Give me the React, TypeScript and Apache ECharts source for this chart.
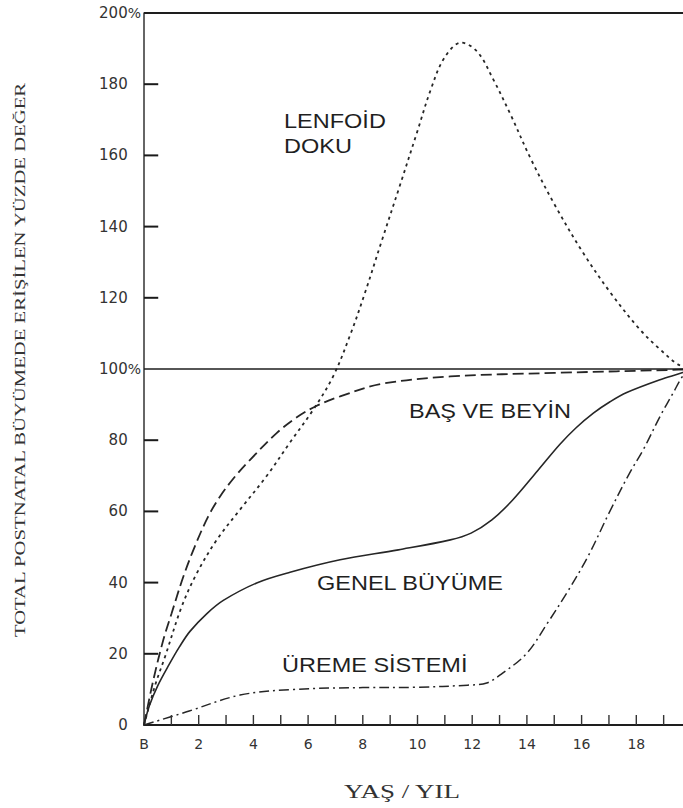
import React, { useEffect, useRef } from "react";
import * as echarts from "echarts";

// ---- data (age in years, value in % of total postnatal growth) ----
const lymphoidAges = [0, 0.4, 0.77, 1.38, 1.93, 2.66, 3.51, 4.49, 5.34, 6.19, 6.92, 7.57, 8.08, 8.71, 9.35, 9.98, 10.49, 10.99, 11.6, 12.2, 12.76, 13.4, 14.15, 15.04, 16.05, 17.06, 18.13, 18.87, 19.52, 20];
const lymphoidValues = [0, 11, 19.2, 33.3, 42.6, 52, 60.5, 70, 79.4, 88.6, 98, 110.2, 121.4, 136.4, 151.4, 166.4, 178.6, 187.5, 191.7, 189, 181.5, 171.5, 158.9, 145.8, 132.7, 121.4, 111.1, 105.5, 101.3, 100];

const headAges = [0, 0.34, 0.71, 1.01, 1.44, 1.86, 2.35, 2.78, 3.33, 3.88, 4.85, 5.6, 6.3, 7.17, 8.67, 11.2, 15, 19.55, 20];
const headValues = [0, 12.6, 24, 31.4, 41.7, 50.2, 58.6, 64.2, 69.8, 74.5, 82, 86.5, 89.6, 92.3, 95.8, 97.9, 98.9, 99.8, 100];

const generalAges = [0, 0.2, 0.5, 0.92, 1.3, 1.68, 2.3, 2.9, 4.12, 5.34, 7.17, 9.3, 11.2, 11.96, 12.72, 13.48, 14.4, 15.2, 15.8, 16.43, 17.04, 17.65, 18.87, 19.7, 20];
const generalValues = [0, 5.5, 11, 17, 22, 26.3, 31.3, 35, 39.9, 42.9, 46.4, 49.2, 52, 53.9, 57.6, 63.2, 71.5, 78.8, 83.5, 87.6, 90.8, 93.4, 97, 99, 100];

const reproAges = [0, 1.56, 3.51, 5.5, 8, 10, 11.83, 12.53, 13.1, 13.99, 14.75, 15.45, 16.23, 17.0, 17.75, 18.26, 18.87, 19.35, 19.7, 20];
const reproValues = [0, 3.7, 8.4, 10, 10.5, 10.6, 11.2, 11.8, 14.5, 20.1, 28.6, 37, 47.3, 59.5, 70.7, 77.4, 86.7, 93.3, 98, 100];

// axis ticks and labels
const xTickLabels = ["B", "", "2", "", "4", "", "6", "", "8", "", "10", "", "12", "", "14", "", "16", "", "18", "", ""];
const xMinorTicks = [1, 2, 3, 4, 5, 6, 7, 8, 9, 10, 11, 12, 13, 14, 15, 16, 17, 18, 19];
const yMajorTicks = [20, 40, 60, 80, 120, 140, 160, 180];
const percentTicks = [100, 200];
const referenceLines = [100, 200];

const curveLabels = [
  { text: "LENFOİD", left: 284, cy: 121 },
  { text: "DOKU", left: 284, cy: 146 },
  { text: "BAŞ VE BEYİN", left: 409, cy: 411 },
  { text: "GENEL BÜYÜME", left: 317, cy: 583 },
  { text: "ÜREME SİSTEMİ", left: 282, cy: 665 },
];

const yTitle = "TOTAL POSTNATAL BÜYÜMEDE ERİŞİLEN YÜZDE DEĞER";
const xTitle = "YAŞ / YIL";

// tick mark lengths, in axis units (style only)
const Y_TICK_LEN = 0.52; // years
const X_TICK_LEN = 2.8; // percent

const pairs = (xs: number[], ys: number[]) => xs.map((x, i) => [x, ys[i]]);

const INK = "#262626";

export default function App() {
  const ref = useRef<HTMLDivElement>(null);

  useEffect(() => {
    document.body.style.margin = "0";
    if (!ref.current) return;
    const chart = echarts.init(ref.current, undefined, { renderer: "svg" });

    const lineSeries = (name: string, data: number[][], type: any, width: number) => ({
      name,
      type: "line",
      data,
      smooth: 0.35,
      showSymbol: false,
      symbol: "none",
      lineStyle: { color: INK, width, type },
      z: 3,
    });

    const tickSeries = (id: string, data: number[][], color: string, width: number) => ({
      id,
      type: "line",
      data,
      silent: true,
      showSymbol: false,
      symbol: "none",
      clip: false,
      lineStyle: { color, width, type: "solid" },
      z: 4,
    });

    const refLineItems = referenceLines.map((v) => ({
      yAxis: v,
      lineStyle: { color: "#1e1e1e", type: "solid", width: v === 200 ? 2 : 1.6 },
    }));

    const option: any = {
      animation: false,
      backgroundColor: "#ffffff",
      grid: { left: 144, right: -8, top: 13, bottom: 83, containLabel: false, outerBoundsMode: "none" },
      xAxis: {
        type: "value",
        min: 0,
        max: 20,
        interval: 1,
        axisLine: { show: true, lineStyle: { color: "#1e1e1e", width: 2 } },
        axisTick: { show: false },
        splitLine: { show: false },
        axisLabel: {
          show: true,
          margin: 12,
          showMaxLabel: false,
          fontFamily: "DejaVu Sans",
          fontSize: 14,
          color: "#333",
          formatter: (v: number) => xTickLabels[Math.round(v)] ?? "",
        },
      },
      yAxis: {
        type: "value",
        min: 0,
        max: 200,
        interval: 20,
        axisLine: { show: true, lineStyle: { color: "#333", width: 1.5 } },
        axisTick: { show: false },
        splitLine: { show: false },
        axisLabel: {
          show: true,
          margin: 3,
          formatter: (v: number) =>
            percentTicks.includes(v) ? `{n|${v}}{p|%}` : `{n|${v}}{h|%}`,
          rich: {
            n: { fontFamily: "DejaVu Sans", fontSize: 15, color: "#333" },
            p: { fontFamily: "DejaVu Sans", fontSize: 14, color: "#333" },
            h: { fontFamily: "DejaVu Sans", fontSize: 14, color: "rgba(0,0,0,0)" },
          },
        },
      },
      series: [
        {
          ...lineSeries("LENFOİD DOKU", pairs(lymphoidAges, lymphoidValues), [3, 4], 1.8),
          markLine: {
            silent: true,
            symbol: ["none", "none"],
            label: { show: false },
            lineStyle: { color: "#1e1e1e", type: "solid", width: 1.6 },
            data: refLineItems,
          },
        },
        lineSeries("BAŞ VE BEYİN", pairs(headAges, headValues), [11, 5], 1.8),
        lineSeries("GENEL BÜYÜME", pairs(generalAges, generalValues), "solid", 1.6),
        lineSeries("ÜREME SİSTEMİ", pairs(reproAges, reproValues), [10, 4, 2, 4], 1.5),
        ...yMajorTicks.map((v) => tickSeries(`ytick-${v}`, [[0, v], [Y_TICK_LEN, v]], "#1a1a1a", 2)),
        ...xMinorTicks.map((a) => tickSeries(`xtick-${a}`, [[a, 0], [a, X_TICK_LEN]], "#333", 1.4)),
      ],
      graphic: [
        ...curveLabels.map((l) => ({
          type: "text",
          x: l.left,
          y: l.cy,
          scaleX: 1.12,
          z: 10,
          style: {
            text: l.text,
            fontFamily: "Liberation Sans",
            fontSize: 21,
            fill: "#1f1f1f",
            align: "left",
            verticalAlign: "middle",
            textAlign: "left",
            textVerticalAlign: "middle",
          },
        })),
        {
          type: "text",
          x: 20,
          y: 360,
          rotation: Math.PI / 2,
          scaleX: 1.38,
          z: 10,
          style: {
            text: yTitle,
            fontFamily: "Liberation Serif",
            fontSize: 15,
            fill: "#333",
            align: "center",
            verticalAlign: "middle",
            textAlign: "center",
            textVerticalAlign: "middle",
          },
        },
        {
          type: "text",
          x: 402,
          y: 792,
          scaleX: 1.5,
          z: 10,
          style: {
            text: xTitle,
            fontFamily: "Liberation Serif",
            fontSize: 18,
            fill: "#333",
            align: "center",
            verticalAlign: "middle",
            textAlign: "center",
            textVerticalAlign: "middle",
          },
        },
      ],
    };

    chart.setOption(option);
    return () => chart.dispose();
  }, []);

  return <div ref={ref} style={{ width: 683, height: 808 }} />;
}
